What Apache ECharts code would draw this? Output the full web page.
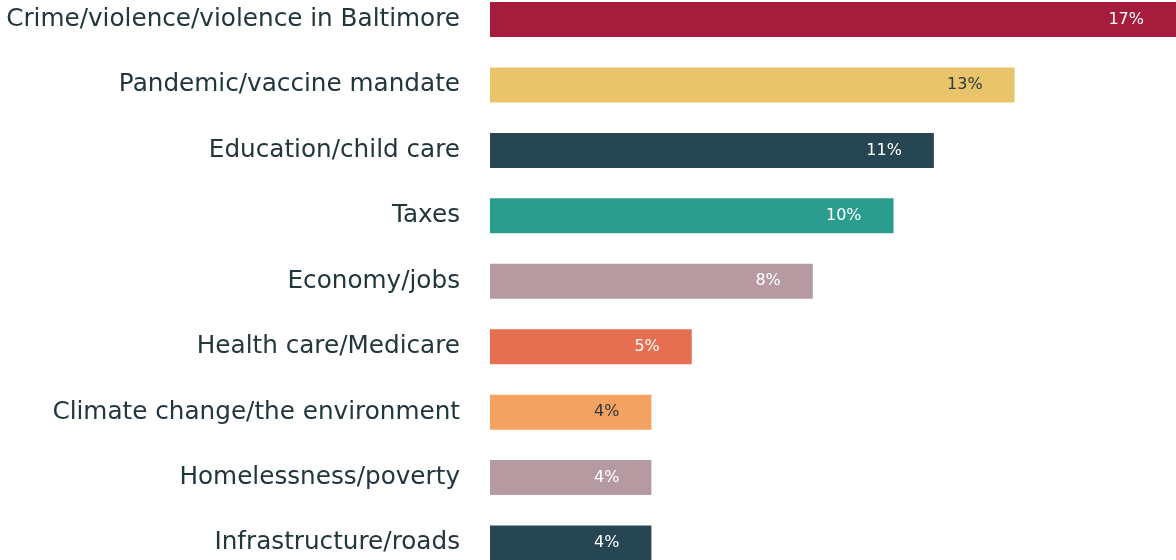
<!DOCTYPE html>
<html><head><meta charset="utf-8">
<style>html,body{margin:0;padding:0;background:#fff}#c{width:1176px;height:560px}</style>
<script src="https://cdn.jsdelivr.net/npm/echarts@6/dist/echarts.min.js"></script>
</head><body><div id="c"></div>
<script>
const categories = ["Crime/violence/violence in Baltimore","Pandemic/vaccine mandate","Education/child care","Taxes","Economy/jobs","Health care/Medicare","Climate change/the environment","Homelessness/poverty","Infrastructure/roads"];
const values = [17, 13, 11, 10, 8, 5, 4, 4, 4];
const colors = ["#A51C3C","#E9C46A","#264653","#2A9D8F","#B59AA2","#E76F51","#F4A261","#B59AA2","#264653"];
const labelColors = ["#fff","#2a3a3f","#fff","#fff","#fff","#fff","#2a3a3f","#fff","#fff"];

const FONT = '"DejaVu Sans", sans-serif';
const chart = echarts.init(document.getElementById('c'), null, {renderer:'canvas'});
chart.setOption({
  animation:false,
  grid:{left:490, right:0, top:19.5, bottom:17, containLabel:false, outerBoundsMode:'none'},
  xAxis:{type:'value', min:0, max:17, show:false},
  yAxis:{type:'category', inverse:true, data:categories, boundaryGap:false,
    axisLine:{show:false}, axisTick:{show:false}, splitLine:{show:false},
    axisLabel:{margin:30, fontSize:24.7, color:'#22363d', fontFamily:FONT}},
  series:[{type:'bar', barWidth:35,
    data: values.map((v,i)=>({value:v, itemStyle:{color:colors[i]},
      label:{color:labelColors[i]}})),
    label:{show:true, position:'insideRight', distance:32, fontSize:16, fontFamily:FONT,
      formatter:p=>p.value+'%'}
  }]
});
</script></body></html>
